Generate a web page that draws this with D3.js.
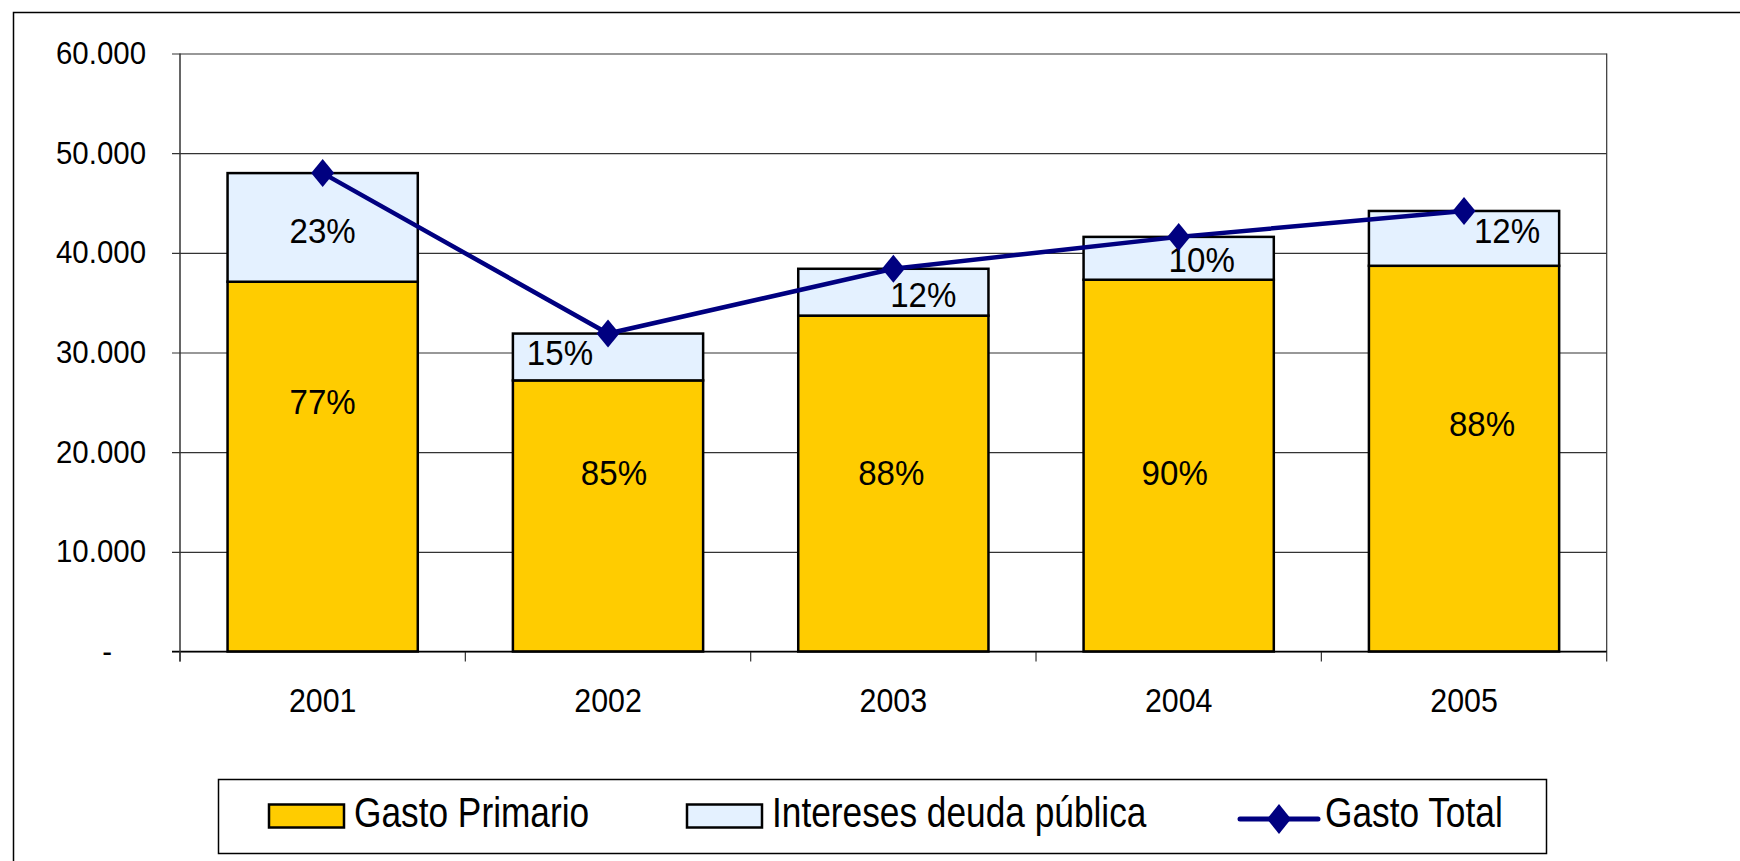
<!DOCTYPE html>
<html>
<head>
<meta charset="utf-8">
<script src="https://d3js.org/d3.v7.min.js"></script>
<style>
  body { margin: 0; background: #fff; }
  text { font-family: "Liberation Sans", Arial, sans-serif; fill: #000; }
</style>
</head>
<body>
<div id="chart"></div>
<script>
// values
let years = ["2001", "2002", "2003", "2004", "2005"];
let gastoPrimario = [37100, 27200, 33700, 37300, 38700];
let intereses = [10900, 4700, 4700, 4300, 5500];
let gastoTotal = [48000, 31900, 38400, 41600, 44200];
let pctPrimario = ["77%", "85%", "88%", "90%", "88%"];
let pctIntereses = ["23%", "15%", "12%", "10%", "12%"];
let yTicks = [0, 10000, 20000, 30000, 40000, 50000, 60000];
let legendNames = ["Gasto Primario", "Intereses deuda pública", "Gasto Total"];

// hand placed label nudges (like the original, labels were dragged around)
let nudgePrimario = [[0, -66], [6, -44], [-2, -12], [-4, 6], [18, -36]];
let nudgeIntereses = [[0, 3], [-48, -5], [30, 2], [23, 1], [43, -8]];

let width = 1740, height = 861;
let plotL = 180, plotR = 1606.7, plotT = 53.5, plotB = 651.5;

let svg = d3.select("#chart").append("svg")
  .attr("width", width)
  .attr("height", height);

// outer frame
svg.append("rect")
  .attr("x", 13.5).attr("y", 12.5)
  .attr("width", 1800).attr("height", 900)
  .attr("fill", "white").attr("stroke", "#000").attr("stroke-width", 1.5);

let x = d3.scaleBand()
  .domain(years)
  .range([plotL, plotR])
  .paddingInner(1 / 3)
  .paddingOuter(1 / 6);

let y = d3.scaleLinear()
  .domain([0, 60000])
  .range([plotB, plotT]);

function sText(g, px, py, str, size, sx, anchor) {
  return g.append("text")
    .attr("transform", `translate(${px},${py}) scale(${sx},1)`)
    .attr("text-anchor", anchor)
    .style("font-size", size + "px")
    .text(str);
}

// gridlines + y ticks
let fmt = d => d === 0 ? "-" : d3.format(",")(d).replace(/,/g, ".");
let yAxis = d3.axisLeft(y)
  .tickValues(yTicks)
  .tickSize(-(plotR - plotL + 8))
  .tickPadding(0)
  .tickFormat(fmt);

let yg = svg.append("g")
  .attr("transform", `translate(${plotL - 8},0)`)
  .call(yAxis);
yg.select(".domain").remove();
yg.selectAll("line").attr("stroke", "#333").attr("stroke-width", 1.2);
yg.selectAll("text")
  .style("font-size", "32px")
  .attr("dy", "0.31em")
  .attr("transform", "scale(0.92,1)")
  .attr("x", d => d === 0 ? -60 / 0.92 : -26 / 0.92);

// plot border right
svg.append("line")
  .attr("x1", plotR).attr("x2", plotR)
  .attr("y1", y(60000)).attr("y2", y(0))
  .attr("stroke", "#333").attr("stroke-width", 1.2);

// category ticks at band boundaries
let half = x.step() / 2;
let bounds = years.map(d => x(d) + x.bandwidth() / 2 - half);
bounds.push(x(years[years.length - 1]) + x.bandwidth() / 2 + half);
svg.selectAll(".ctick").data(bounds).enter().append("line")
  .attr("x1", d => d).attr("x2", d => d)
  .attr("y1", y(0)).attr("y2", y(0) + 10)
  .attr("stroke", "#333").attr("stroke-width", 1.2);

// bars
let rows = years.map((yr, i) => ({
  yr, p: gastoPrimario[i], q: intereses[i], t: gastoTotal[i], i
}));

let bars = svg.append("g");
bars.selectAll(".prim").data(rows).enter().append("rect")
  .attr("x", d => x(d.yr))
  .attr("width", x.bandwidth())
  .attr("y", d => y(d.p))
  .attr("height", d => y(0) - y(d.p))
  .attr("fill", "#FFCC00")
  .attr("stroke", "#000").attr("stroke-width", 2.5);

bars.selectAll(".int").data(rows).enter().append("rect")
  .attr("x", d => x(d.yr))
  .attr("width", x.bandwidth())
  .attr("y", d => y(d.p + d.q))
  .attr("height", d => y(d.p) - y(d.p + d.q))
  .attr("fill", "#E4F1FF")
  .attr("stroke", "#000").attr("stroke-width", 2.5);

// x axis baseline and y axis line
svg.append("line")
  .attr("x1", plotL - 8).attr("x2", plotR)
  .attr("y1", y(0)).attr("y2", y(0))
  .attr("stroke", "#000").attr("stroke-width", 1.5);
svg.append("line")
  .attr("x1", plotL).attr("x2", plotL)
  .attr("y1", y(60000)).attr("y2", y(0) + 10)
  .attr("stroke", "#333").attr("stroke-width", 1.5);

// category labels
let xg = svg.append("g")
  .attr("transform", `translate(0,${y(0)})`)
  .call(d3.axisBottom(x).tickSize(0).tickPadding(37));
xg.select(".domain").remove();
xg.selectAll("text")
  .style("font-size", "33px")
  .attr("transform", "scale(0.92,1)");

// percentage labels
let labels = svg.append("g");
rows.forEach(d => {
  let cx = x(d.yr) + x.bandwidth() / 2;
  let midP = (y(0) + y(d.p)) / 2;
  let midQ = (y(d.p) + y(d.p + d.q)) / 2;
  sText(labels, cx + nudgePrimario[d.i][0], midP + nudgePrimario[d.i][1] + 13,
    pctPrimario[d.i], 36, 0.92, "middle");
  sText(labels, cx + nudgeIntereses[d.i][0], midQ + nudgeIntereses[d.i][1] + 13,
    pctIntereses[d.i], 36, 0.92, "middle");
});

// total line
let line = d3.line()
  .x(d => x(d.yr) + x.bandwidth() / 2)
  .y(d => y(d.t));

svg.append("path")
  .attr("d", line(rows))
  .attr("fill", "none")
  .attr("stroke", "#000080")
  .attr("stroke-width", 4.5);

let diamond = (w, h) => `M0,${-h}L${w},0L0,${h}L${-w},0Z`;
svg.selectAll(".mk").data(rows).enter().append("path")
  .attr("transform", d => `translate(${x(d.yr) + x.bandwidth() / 2},${y(d.t)})`)
  .attr("d", diamond(11.5, 14))
  .attr("fill", "#000080");

// legend
let lg = svg.append("g");
lg.append("rect")
  .attr("x", 218.5).attr("y", 779.5)
  .attr("width", 1328).attr("height", 74)
  .attr("fill", "white").attr("stroke", "#000").attr("stroke-width", 1.5);

lg.append("rect")
  .attr("x", 269).attr("y", 804.5).attr("width", 75).attr("height", 23)
  .attr("fill", "#FFCC00").attr("stroke", "#000").attr("stroke-width", 2.5);
sText(lg, 354, 827, legendNames[0], 42, 0.84, "start");

lg.append("rect")
  .attr("x", 687).attr("y", 804.5).attr("width", 75).attr("height", 23)
  .attr("fill", "#E4F1FF").attr("stroke", "#000").attr("stroke-width", 2.5);
sText(lg, 772, 827, legendNames[1], 42, 0.84, "start");

lg.append("line")
  .attr("x1", 1240).attr("x2", 1318)
  .attr("y1", 819).attr("y2", 819)
  .attr("stroke", "#000080").attr("stroke-width", 5)
  .attr("stroke-linecap", "round");
lg.append("path")
  .attr("transform", "translate(1279,819)")
  .attr("d", diamond(12, 15))
  .attr("fill", "#000080");
sText(lg, 1325, 827, legendNames[2], 42, 0.84, "start");
</script>
</body>
</html>
